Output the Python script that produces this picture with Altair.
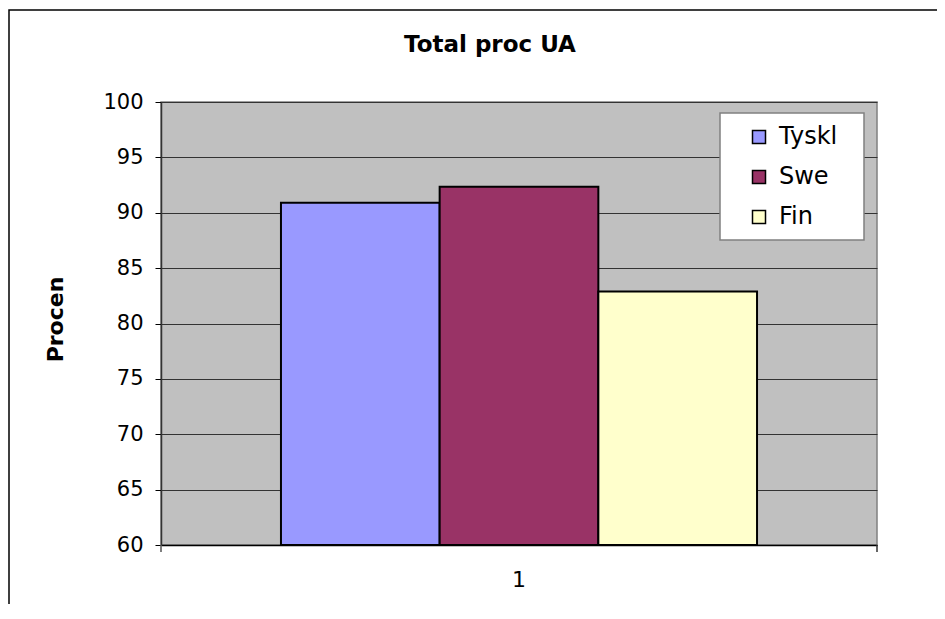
import altair as alt
import pandas as pd

categories = ["1"]
series = ["Tyskl", "Swe", "Fin"]
values = [90.9, 92.35, 82.9]
colors = ["#9999FF", "#993366", "#FFFFCC"]
y_ticks = [60, 65, 70, 75, 80, 85, 90, 95, 100]
chart_title = "Total proc UA"
y_title = "Procen"

df = pd.DataFrame({"cat": [categories[0]] * len(series), "series": series, "value": values})

W, H = 716, 443
FONT = "DejaVu Sans"

bars = alt.Chart(df).mark_bar(stroke="black", strokeWidth=2).encode(
    x=alt.X("cat:N", scale=alt.Scale(paddingInner=0, paddingOuter=0),
            axis=alt.Axis(title=None, labelAngle=0, ticks=False, labelFontSize=22,
                          labelPadding=24, labelFont=FONT, labelColor="black",
                          domainColor="black", domainWidth=1.5)),
    xOffset=alt.XOffset("series:N", sort=series,
                        scale=alt.Scale(domain=series, paddingInner=0, paddingOuter=0.756)),
    y=alt.Y("value:Q", scale=alt.Scale(domain=[60, 100], zero=False, nice=False),
            axis=alt.Axis(values=y_ticks, title=y_title, labelFontSize=21, labelFont=FONT,
                          labelColor="black", labelPadding=12, tickSize=6, tickColor="black",
                          domainColor="#333333", domainWidth=1.5, gridColor="#333333",
                          gridWidth=1, titleFont=FONT, titleFontSize=22, titleFontWeight="bold",
                          titleColor="black", titlePadding=35, titleY=217)),
    y2=alt.datum(60),
    color=alt.Color("series:N", sort=series, scale=alt.Scale(domain=series, range=colors),
                    legend=alt.Legend(title=None, orient="none", legendX=586, legendY=23,
                                      padding=0, labelOffset=8, labelFont=FONT,
                                      labelFontSize=24, labelColor="black", symbolType="square",
                                      symbolSize=169, symbolStrokeColor="black",
                                      symbolStrokeWidth=1.5, symbolOpacity=1, rowPadding=16)),
)

one = pd.DataFrame({"a": [0]})

legend_box = alt.Chart(one).mark_rect(fill="white", stroke="#808080", strokeWidth=1.5).encode(
    x=alt.value(559), x2=alt.value(703), y=alt.value(11), y2=alt.value(138))

tick_left = alt.Chart(one).mark_rule(color="#555555", strokeWidth=1.5).encode(
    x=alt.value(0), y=alt.value(H), y2=alt.value(H + 7))
tick_right = alt.Chart(one).mark_rule(color="#333333", strokeWidth=1.5).encode(
    x=alt.value(W), y=alt.value(H), y2=alt.value(H + 7))

border = alt.Chart(one).mark_rect(fillOpacity=0, stroke="black", strokeWidth=1.5).encode(
    x=alt.value(-152), x2=alt.value(W + 300), y=alt.value(-92), y2=alt.value(H + 300))

title = alt.Chart(one).mark_text(text=chart_title, font=FONT, fontSize=23, fontWeight="bold",
                                 color="black", align="center", baseline="middle").encode(
    x=alt.value(329), y=alt.value(-57))

chart = alt.layer(border, bars, legend_box, tick_left, tick_right, title).properties(
    width=W, height=H,
    autosize=alt.AutoSizeParams(type="none"),
    padding={"left": 153, "top": 94, "right": 60, "bottom": 59},
    background="white",
).configure_view(fill="#C0C0C0", stroke="#808080", strokeWidth=1.5)

chart.save("out.html", embed_options={"renderer": "svg", "actions": False})
